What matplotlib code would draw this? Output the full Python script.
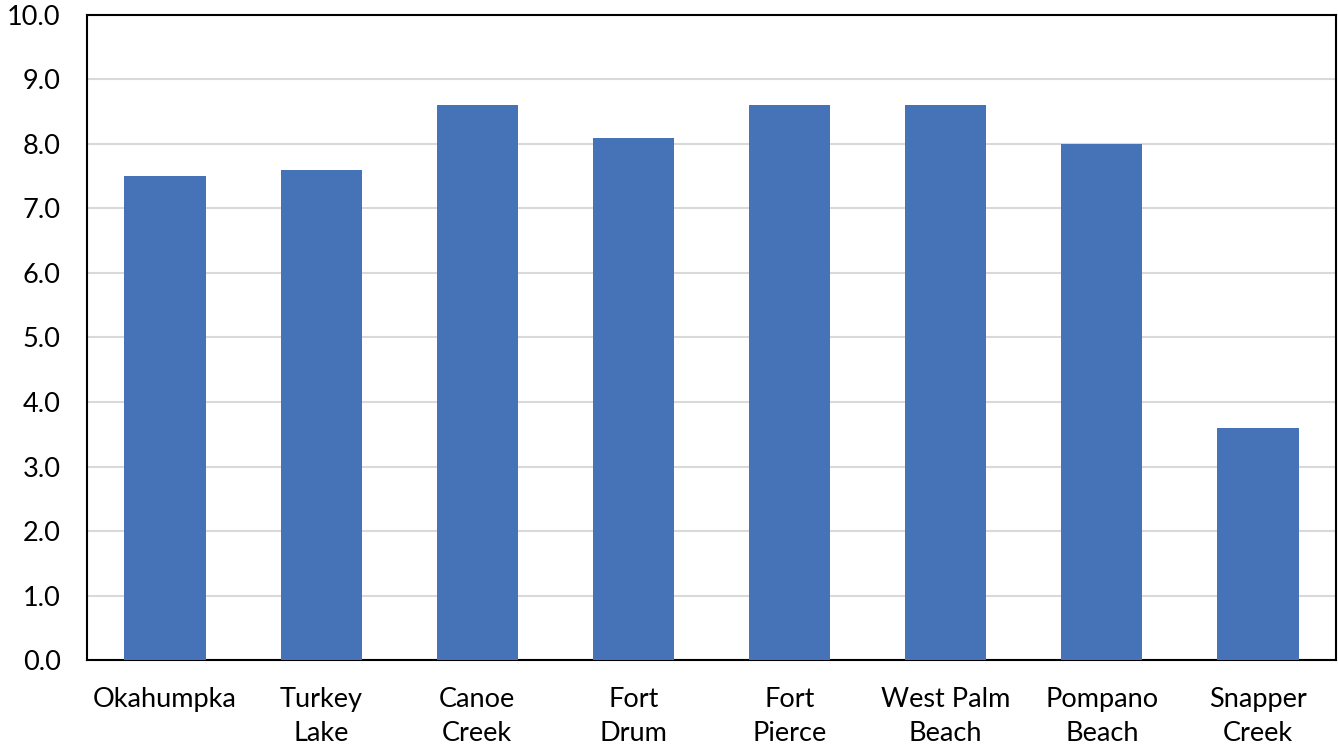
import matplotlib
matplotlib.use("Agg")
import matplotlib.pyplot as plt

sites = ["Okahumpka", "Turkey\nLake", "Canoe\nCreek", "Fort\nDrum", "Fort\nPierce",
         "West Palm\nBeach", "Pompano\nBeach", "Snapper\nCreek"]
values = [7.5, 7.6, 8.6, 8.1, 8.6, 8.6, 8.0, 3.6]
y_ticks = [0, 1, 2, 3, 4, 5, 6, 7, 8, 9, 10]

plt.rcParams['font.family'] = ['Lato', 'DejaVu Sans']

fig = plt.figure(figsize=(13.38, 7.49), dpi=100)
ax = fig.add_axes([0.065, 0.1188, 0.9335, 0.8612])

x = range(len(sites))
ax.bar(x, values, width=0.52, color="#4672B8", zorder=3)

ax.set_xlim(-0.5, len(sites) - 0.5)
ax.set_ylim(0, 10)
ax.set_yticks(y_ticks)
ax.set_yticklabels([f"{v:.1f}" for v in y_ticks], fontsize=19.5)
ax.set_xticks(list(x))
ax.set_xticklabels(sites, fontsize=19.5, linespacing=1.45)
ax.tick_params(axis="both", length=0, colors="black")
ax.tick_params(axis="x", pad=19.5)
ax.tick_params(axis="y", pad=19)

ax.yaxis.grid(True, color="#d9d9d9", linewidth=1.5, zorder=0)
ax.set_axisbelow(True)
for s in ax.spines.values():
    s.set_linewidth(1.5)
    s.set_color("black")

fig.savefig("out.png", dpi=100)
